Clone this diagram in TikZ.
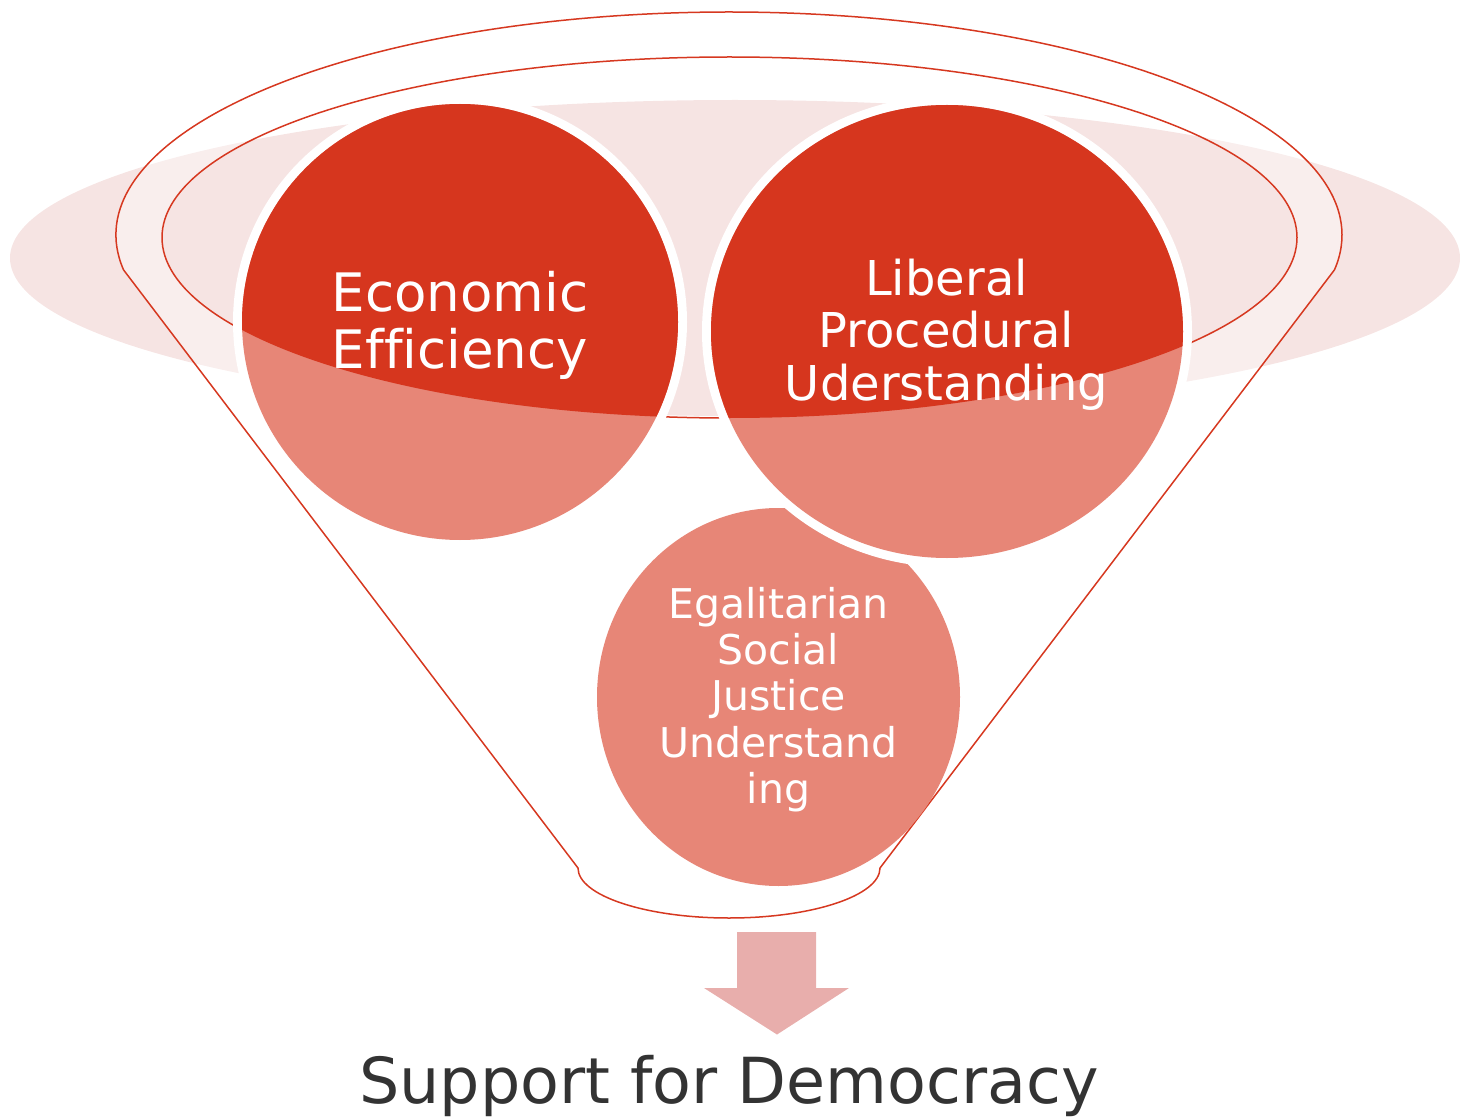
\documentclass[tikz,border=0pt]{standalone}
\usepackage{fontspec}
\setmainfont{DejaVu Sans}[Ligatures=NoCommon]
\definecolor{rimred}{RGB}{214,56,32}
\definecolor{deepred}{RGB}{214,54,30}
\definecolor{salmon}{RGB}{231,134,119}
\definecolor{blush}{RGB}{246,228,227}
\definecolor{arrowpink}{RGB}{232,174,172}
\definecolor{inkgray}{RGB}{51,51,51}
\begin{document}
\begin{tikzpicture}[x=1pt,y=-1pt,
  rimline/.style={draw=rimred, line width=1.5pt},
  ringwhite/.style={fill=white},
  lbl/.style={text=white, inner sep=0pt, anchor=base},
  bigfont/.style={font=\fontsize{53}{60}\selectfont},
  midfont/.style={font=\fontsize{48}{55}\selectfont},
  smallfont/.style={font=\fontsize{41}{47}\selectfont}]
\useasboundingbox (0,0) rectangle (1460,1118);

% soft backdrop ellipse behind the funnel mouth
\fill[blush] (735,258) ellipse[x radius=725, y radius=158];

% funnel body: outer rim, sides and rounded spout
\coordinate (oc) at (729,235);
\path (oc) ++(171:613 and 223) coordinate (rimL);
\coordinate (btmR) at (880,868);
\path[fill=white, fill opacity=0.38, even odd rule]
  (rimL) arc[start angle=171, end angle=369, x radius=613, y radius=223]
  -- (btmR) arc[start angle=0, end angle=180, x radius=151, y radius=50] -- cycle
  (729.5,237.5) ellipse[x radius=567.5, y radius=180.5];
\draw[rimline]
  (rimL) arc[start angle=171, end angle=369, x radius=613, y radius=223]
  -- (btmR) arc[start angle=0, end angle=180, x radius=151, y radius=50] -- cycle;
\draw[rimline] (729.5,237.5) ellipse[x radius=567.5, y radius=180.5];

% bottom ball
\fill[salmon] (778.5,697) ellipse[x radius=181.5, y radius=189];
% left ball
\fill[ringwhite] (460,322) circle[radius=227];
\fill[salmon] (460,322) circle[radius=218];
% right ball, its white rim cuts into the bottom ball
\fill[ringwhite] (947,331.5) ellipse[x radius=245, y radius=235.5];
\fill[salmon] (947,331.5) ellipse[x radius=236, y radius=226.5];

% the part of the balls inside the funnel mouth is darker
\begin{scope}
  \clip (729.5,237.5) ellipse[x radius=567.5, y radius=180.5];
  \fill[deepred] (460,322) circle[radius=218];
  \fill[deepred] (947,331.5) ellipse[x radius=236, y radius=226.5];
\end{scope}

% labels
\node[lbl, bigfont] (ee1) at (460,312) {Economic};
\node[lbl, bigfont] (ee2) at (460,368.5) {Efficiency};

\node[lbl, midfont] (lp1) at (946.5,295) {Liberal};
\node[lbl, midfont] (lp2) at (946.5,347.5) {Procedural};
\node[lbl, midfont] (lp3) at (946.5,400) {Uderstanding};

\node[lbl, smallfont] (es1) at (778.5,618.3) {Egalitarian};
\node[lbl, smallfont] (es2) at (778.5,664.5) {Social};
\node[lbl, smallfont] (es3) at (778.5,710.5) {Justice};
\node[lbl, smallfont] (es4) at (778.5,757) {Understand};
\node[lbl, smallfont] (es5) at (778.5,803.3) {ing};

% output arrow and result
\fill[arrowpink] (737,932) -- (816,932) -- (816,988) -- (849,988)
  -- (777,1034.5) -- (704,988) -- (737,988) -- cycle;
\node[inner sep=0pt, anchor=base, text=inkgray, font=\fontsize{63.5}{70}\selectfont]
  (result) at (729,1103) {Support for Democracy};
\end{tikzpicture}
\end{document}
